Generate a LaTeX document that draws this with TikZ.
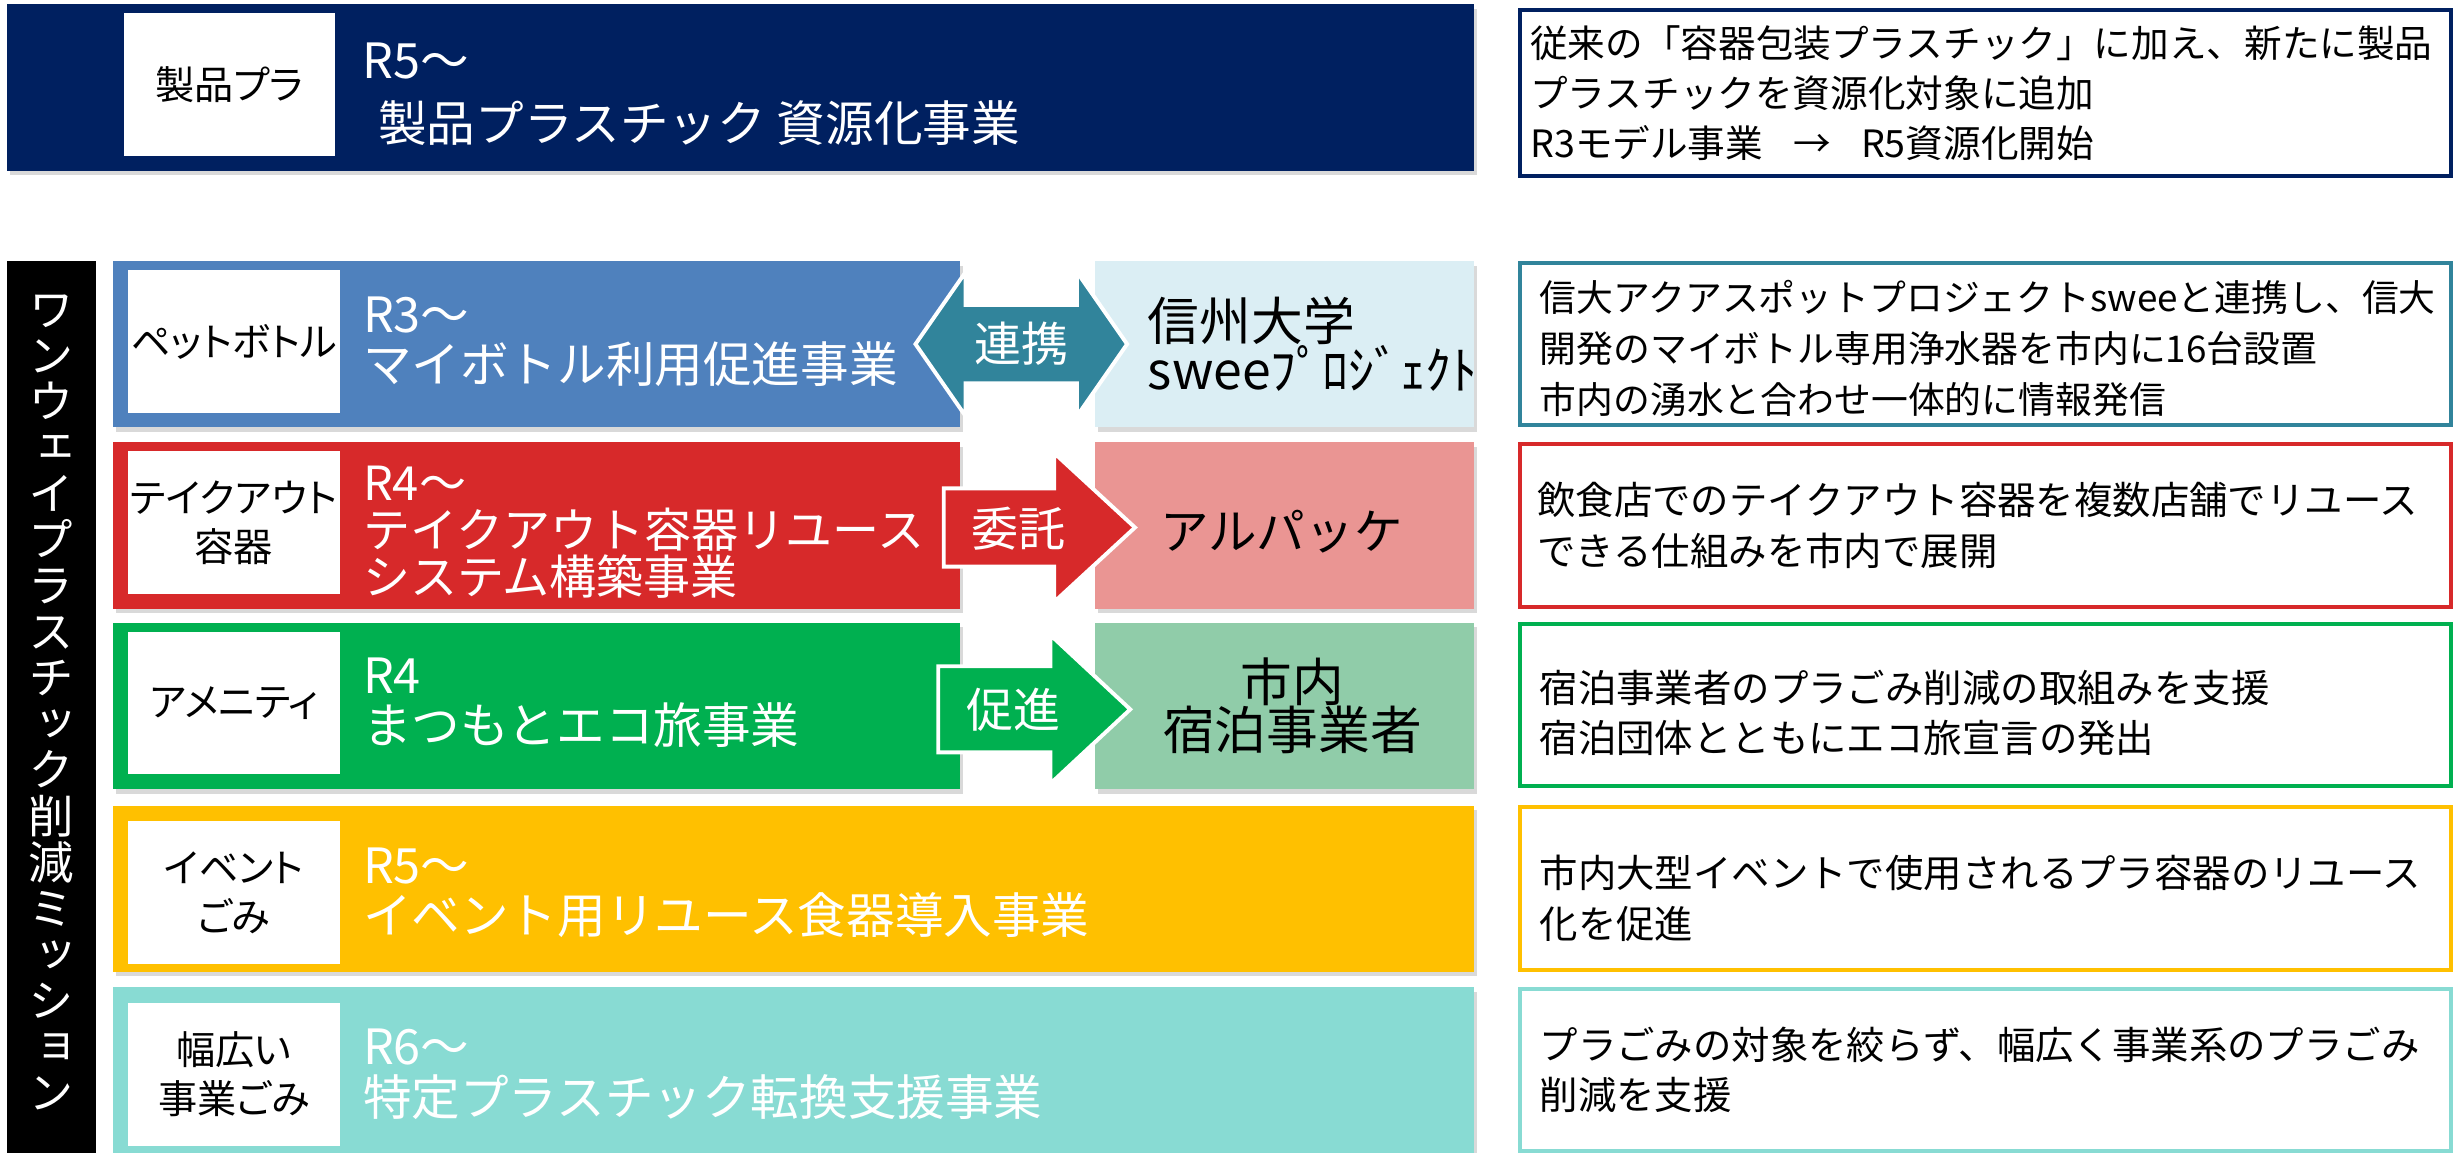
\documentclass[tikz,border=0pt]{standalone}
\usepackage{fontspec}
\setmainfont{Noto Sans CJK JP}
\newfontfamily\propfont[RawFeature=+palt]{Noto Sans CJK JP}
\newfontfamily\vertfont[RawFeature=+vert]{Noto Sans CJK JP}
\usetikzlibrary{positioning,shadows}

\definecolor{navy}{HTML}{002060}
\definecolor{petblue}{HTML}{4F81BD}
\definecolor{petlight}{HTML}{DBEEF4}
\definecolor{petteal}{HTML}{31849B}
\definecolor{tored}{HTML}{D7292A}
\definecolor{topink}{HTML}{EA9593}
\definecolor{amegreen}{HTML}{00B050}
\definecolor{amelight}{HTML}{90CCA9}
\definecolor{evyellow}{HTML}{FFC000}
\definecolor{bizteal}{HTML}{88DBD3}

\tikzset{
  rowbox/.style={rectangle, anchor=north west, inner sep=0pt, minimum height=106pt,
    drop shadow={shadow xshift=2pt, shadow yshift=-3pt, opacity=0.3}},
  tagbox/.style={rectangle, fill=white, inner sep=0pt, minimum width=135pt, minimum height=91pt,
    align=center, font=\propfont\fontsize{25}{31}\selectfont},
  rowtext/.style={inner sep=0pt, text=white, align=left, font=\fontsize{31}{32}\selectfont},
  bigtext/.style={inner sep=0pt, align=center, font=\fontsize{33}{31}\selectfont},
  notebox/.style={rectangle, draw, line width=2.5pt, anchor=north west, inner sep=0pt,
    minimum width=594pt, minimum height=103.5pt},
  notetext/.style={inner sep=0pt, align=left, font=\fontsize{24.5}{32.5}\selectfont},
  blockarrow/.style={draw=white, line width=2.5pt},
  arrowtext/.style={inner sep=0pt, text=white, font=\fontsize{30}{30}\selectfont}
}

\begin{document}
\begin{tikzpicture}[x=1pt,y=-1pt]
  \useasboundingbox (0,0) rectangle (1568,735.5);

  % banner
  \node[rowbox, fill=navy, minimum width=935.7pt] (seihinbox) at (4.3,2.6) {};
  \node[tagbox, anchor=north west] (seihintag) at (78.7,8.1) {製品プラ};
  \node[rowtext, font=\fontsize{31}{40}\selectfont, right=17pt of seihintag.east, yshift=-6.4pt] (seihintext)
    {R5～\\\hspace*{10pt}製品プラスチック 資源化事業};
  \node[notebox, draw=navy, minimum height=106pt] (seihinnote) at (968.5,5.3) {};
  \node[notetext, font=\fontsize{24}{32}\selectfont, right=7.5pt of seihinnote.west] (seihinnotetext)
    {従来の「容器包装プラスチック」に加え、新たに製品\\プラスチックを資源化対象に追加\\R3モデル事業\hspace{0.8em}→\hspace{0.8em}R5資源化開始};

  % mission bar
  \node[rectangle, fill=black, anchor=north west, inner sep=0pt, minimum width=56.7pt, minimum height=580pt] (missionbar) at (4.3,166.5) {};
  \node[text=white, inner sep=0pt, align=center, font=\vertfont\fontsize{29}{29.4}\selectfont] (mission) at (32.7,448)
    {ワ\\ン\\ウ\\ェ\\イ\\プ\\ラ\\ス\\チ\\ッ\\ク\\削\\減\\ミ\\ッ\\シ\\ョ\\ン};

  % rows
  \node[rowbox, fill=petblue, minimum width=540pt] (petbox) at (72,166.5) {};
  \node[rowbox, fill=tored, minimum width=540pt] (takebox) at (72,282) {};
  \node[rowbox, fill=amegreen, minimum width=540pt] (amebox) at (72,397) {};
  \node[rowbox, fill=evyellow, minimum width=868pt] (evbox) at (72,513.7) {};
  \node[rowbox, fill=bizteal, minimum width=868pt, minimum height=125pt] (bizbox) at (72,629.6) {};

  \node[rowbox, fill=petlight, minimum width=241.5pt] (univbox) at (698.5,166.5) {};
  \node[rowbox, fill=topink, minimum width=241.5pt] (albox) at (698.5,282) {};
  \node[rowbox, fill=amelight, minimum width=241.5pt] (hotelbox) at (698.5,397) {};

  \node[tagbox, below right=5.7pt and 9.5pt of petbox.north west] (pettag) {ペットボトル};
  \node[tagbox, below right=5.7pt and 9.5pt of takebox.north west] (taketag) {テイクアウト\\容器};
  \node[tagbox, below right=5.7pt and 9.5pt of amebox.north west] (ametag) {アメニティ};
  \node[tagbox, below right=10pt and 9.5pt of evbox.north west] (evtag) {イベント\\ごみ};
  \node[tagbox, below right=10pt and 9.5pt of bizbox.north west] (biztag) {幅広い\\事業ごみ};

  \node[rowtext, right=14.5pt of pettag.east] (pettext) {R3～\\マイボトル利用促進事業};
  \node[rowtext, font=\fontsize{30}{30}\selectfont, right=14.5pt of taketag.east, yshift=-6pt] (taketext)
    {R4～\\テイクアウト容器リユース\\システム構築事業};
  \node[rowtext, right=14.5pt of ametag.east] (ametext) {R4\\まつもとエコ旅事業};
  \node[rowtext, right=14.5pt of evtag.east] (evtext) {R5～\\イベント用リユース食器導入事業};
  \node[rowtext, right=14.5pt of biztag.east] (biztext) {R6～\\特定プラスチック転換支援事業};

  \node[bigtext, align=left, right=33.5pt of univbox.west] (univ) {信州大学\\sweeﾌﾟﾛｼﾞｪｸﾄ};
  \node[bigtext, font=\fontsize{31}{31}\selectfont, xshift=-2pt, yshift=-4pt] (alpak) at (albox) {アルパッケ};
  \node[bigtext, xshift=5pt] (hotel) at (hotelbox) {市内\\宿泊事業者};

  % arrows
  \draw[blockarrow, fill=petteal] (584,219.5) -- (616,173.5) -- (616,194.5) -- (687,194.5) -- (687,173.5)
    -- (719,219.5) -- (687,265.5) -- (687,244.5) -- (616,244.5) -- (616,265.5) -- cycle;
  \node[arrowtext] (renkei) at (651.5,219.5) {連携};
  \draw[blockarrow, fill=tored] (602,311.5) -- (672.5,311.5) -- (672.5,289) -- (724,336.5)
    -- (672.5,384) -- (672.5,361.5) -- (602,361.5) -- cycle;
  \node[arrowtext] (itaku) at (649.5,337) {委託};
  \draw[blockarrow, fill=amegreen] (598.5,425) -- (670,425) -- (670,405) -- (721,452.5)
    -- (670,500) -- (670,480) -- (598.5,480) -- cycle;
  \node[arrowtext] (sokushin) at (646.5,452.5) {促進};

  % notes
  \node[notebox, draw=petteal] (petnote) at (968.5,166.5) {};
  \node[notebox, draw=tored] (takenote) at (968.5,282.2) {};
  \node[notebox, draw=amegreen] (amenote) at (968.5,396.8) {};
  \node[notebox, draw=evyellow] (evnote) at (968.5,513.8) {};
  \node[notebox, draw=bizteal] (biznote) at (968.5,629.5) {};

  \node[notetext, font=\fontsize{23.5}{32.5}\selectfont, right=13.5pt of petnote.west, yshift=-3pt] (petnotetext)
    {信大アクアスポットプロジェクトsweeと連携し、信大\\開発のマイボトル専用浄水器を市内に16台設置\\市内の湧水と合わせ一体的に情報発信};
  \node[notetext, right=12pt of takenote.west] (takenotetext)
    {飲食店でのテイクアウト容器を複数店舗でリユース\\できる仕組みを市内で展開};
  \node[notetext, right=13.5pt of amenote.west, yshift=-5pt] (amenotetext)
    {宿泊事業者のプラごみ削減の取組みを支援\\宿泊団体とともにエコ旅宣言の発出};
  \node[notetext, right=13.5pt of evnote.west, yshift=-6pt] (evnotetext)
    {市内大型イベントで使用されるプラ容器のリユース\\化を促進};
  \node[notetext, right=13.5pt of biznote.west] (biznotetext)
    {プラごみの対象を絞らず、幅広く事業系のプラごみ\\削減を支援};
\end{tikzpicture}
\end{document}
